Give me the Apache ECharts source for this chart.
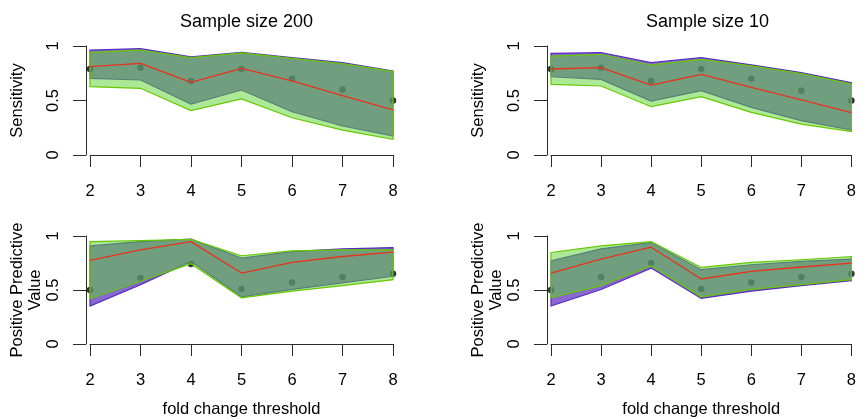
<!DOCTYPE html>
<html>
<head>
<meta charset="utf-8">
<script src="https://cdn.jsdelivr.net/npm/echarts@6/dist/echarts.min.js"></script>
<style>
  html, body { margin: 0; padding: 0; background: #fff; }
  #chart { width: 859px; height: 419px; }
</style>
</head>
<body>
<div id="chart"></div>
<script>
// fold change thresholds on the x axis
const thresholds = [2, 3, 4, 5, 6, 7, 8];
const yTicks = [0, 0.5, 1];

// Sensitivity, sample size 200
const sens200Truth = [0.79, 0.80, 0.68, 0.79, 0.70, 0.60, 0.50];
const sens200PurpleHi = [0.963, 0.975, 0.900, 0.942, 0.893, 0.847, 0.771];
const sens200PurpleLo = [0.703, 0.688, 0.468, 0.596, 0.397, 0.266, 0.174];
const sens200GreenHi = [0.942, 0.963, 0.893, 0.937, 0.887, 0.838, 0.765];
const sens200GreenLo = [0.627, 0.612, 0.407, 0.514, 0.342, 0.229, 0.144];
const sens200Median = [0.810, 0.841, 0.667, 0.795, 0.679, 0.544, 0.413];

// Sensitivity, sample size 10
const sens10Truth = [0.79, 0.80, 0.68, 0.79, 0.70, 0.59, 0.50];
const sens10PurpleHi = [0.933, 0.939, 0.847, 0.893, 0.826, 0.755, 0.664];
const sens10PurpleLo = [0.718, 0.694, 0.495, 0.590, 0.437, 0.315, 0.229];
const sens10GreenHi = [0.908, 0.924, 0.826, 0.878, 0.817, 0.746, 0.651];
const sens10GreenLo = [0.648, 0.633, 0.443, 0.535, 0.391, 0.284, 0.214];
const sens10Median = [0.789, 0.801, 0.642, 0.740, 0.621, 0.505, 0.388];

// Positive predictive value, sample size 200
const ppv200Truth = [0.50, 0.61, 0.74, 0.51, 0.57, 0.62, 0.65];
const ppv200PurpleHi = [0.908, 0.948, 0.972, 0.795, 0.856, 0.881, 0.893];
const ppv200PurpleLo = [0.352, 0.550, 0.765, 0.437, 0.505, 0.566, 0.627];
const ppv200GreenHi = [0.948, 0.957, 0.969, 0.817, 0.862, 0.872, 0.872];
const ppv200GreenLo = [0.419, 0.581, 0.743, 0.428, 0.489, 0.541, 0.596];
const ppv200Median = [0.774, 0.872, 0.948, 0.657, 0.755, 0.810, 0.850];

// Positive predictive value, sample size 10
const ppv10Truth = [0.50, 0.62, 0.75, 0.51, 0.57, 0.62, 0.65];
const ppv10PurpleHi = [0.771, 0.881, 0.939, 0.688, 0.734, 0.765, 0.786];
const ppv10PurpleLo = [0.352, 0.505, 0.703, 0.422, 0.489, 0.541, 0.587];
const ppv10GreenHi = [0.847, 0.908, 0.948, 0.709, 0.755, 0.780, 0.810];
const ppv10GreenLo = [0.428, 0.541, 0.725, 0.437, 0.505, 0.550, 0.596];
const ppv10Median = [0.657, 0.786, 0.896, 0.602, 0.673, 0.713, 0.749];

const FONT = '"Liberation Sans", Arial, Helvetica, sans-serif';
const INK = '#000';
const AXIS = '#2b2b2b';

const panels = [
    { truth: sens200Truth, pHi: sens200PurpleHi, pLo: sens200PurpleLo, gHi: sens200GreenHi, gLo: sens200GreenLo, med: sens200Median, yName: 'Sensitivity', xName: '' },
    { truth: sens10Truth, pHi: sens10PurpleHi, pLo: sens10PurpleLo, gHi: sens10GreenHi, gLo: sens10GreenLo, med: sens10Median, yName: 'Sensitivity', xName: '' },
    { truth: ppv200Truth, pHi: ppv200PurpleHi, pLo: ppv200PurpleLo, gHi: ppv200GreenHi, gLo: ppv200GreenLo, med: ppv200Median, yName: 'Positive Predictive\nValue', xName: 'fold change threshold' },
    { truth: ppv10Truth, pHi: ppv10PurpleHi, pLo: ppv10PurpleLo, gHi: ppv10GreenHi, gLo: ppv10GreenLo, med: ppv10Median, yName: 'Positive Predictive\nValue', xName: 'fold change threshold' }
];

const grids = [
    { left: 90, top: 46, width: 303, height: 109 },
    { left: 551, top: 46, width: 303, height: 109 },
    { left: 90, top: 236, width: 303, height: 109 },
    { left: 551, top: 236, width: 303, height: 109 }
];

// whole band drawn as one polygon, like R's polygon()
function bandSeries(idx, hi, lo, fill, stroke, z) {
    return {
        type: 'custom',
        xAxisIndex: idx,
        yAxisIndex: idx,
        z: z,
        silent: true,
        data: thresholds.map((x, i) => [x, lo[i], hi[i]]),
        encode: { x: 0, y: [1, 2] },
        renderItem: function (params, api) {
            if (params.dataIndex !== 0) return null;
            const pts = [];
            for (let i = 0; i < thresholds.length; i++) pts.push(api.coord([thresholds[i], hi[i]]));
            for (let i = thresholds.length - 1; i >= 0; i--) pts.push(api.coord([thresholds[i], lo[i]]));
            return {
                type: 'polygon',
                shape: { points: pts },
                style: { fill: fill, stroke: stroke, lineWidth: 1.2 }
            };
        }
    };
}

let xAxes = [], yAxes = [], series = [];
panels.forEach((p, idx) => {
    xAxes.push({
        gridIndex: idx,
        type: 'value',
        min: 2,
        max: 8,
        interval: 1,
        name: p.xName,
        nameLocation: 'middle',
        nameGap: 57,
        nameTextStyle: { color: INK, fontSize: 16.5, fontFamily: FONT },
        axisLine: { lineStyle: { color: AXIS, width: 1 } },
        axisTick: { length: 12, lineStyle: { color: AXIS } },
        axisLabel: { color: INK, fontSize: 16.5, fontFamily: FONT, margin: 28 },
        splitLine: { show: false }
    });
    yAxes.push({
        gridIndex: idx,
        type: 'value',
        min: 0,
        max: 1,
        interval: 0.5,
        offset: 4,
        name: p.yName,
        nameLocation: 'middle',
        nameRotate: 90,
        nameGap: idx < 2 ? 60 : 39,
        nameTextStyle: { color: INK, fontSize: 16.5, fontFamily: FONT, lineHeight: 18 },
        axisLine: { show: true, lineStyle: { color: AXIS, width: 1 } },
        axisTick: { show: true, length: 13, lineStyle: { color: AXIS } },
        axisLabel: {
            color: INK, fontSize: 16.5, fontFamily: FONT, rotate: 90, margin: 24,
            formatter: v => yTicks.indexOf(v) >= 0 ? String(v) : ''
        },
        splitLine: { show: false }
    });
    series.push({
        type: 'scatter',
        xAxisIndex: idx,
        yAxisIndex: idx,
        z: 1,
        symbolSize: 6.5,
        itemStyle: { color: '#000' },
        data: thresholds.map((x, i) => [x, p.truth[i]])
    });
    series.push(bandSeries(idx, p.pHi, p.pLo, 'rgba(85,40,190,0.7)', '#5a2cc0', 2));
    series.push(bandSeries(idx, p.gHi, p.gLo, 'rgba(88,212,45,0.5)', '#66c800', 3));
    series.push({
        type: 'line',
        xAxisIndex: idx,
        yAxisIndex: idx,
        z: 4,
        symbol: 'none',
        lineStyle: { color: '#e8321c', width: 1.3 },
        data: thresholds.map((x, i) => [x, p.med[i]])
    });
});

const chart = echarts.init(document.getElementById('chart'), null, { renderer: 'canvas' });
chart.setOption({
    animation: false,
    backgroundColor: '#fff',
    title: [
        { text: 'Sample size 200', left: 241.5, top: 8, textAlign: 'center', textStyle: { color: INK, fontSize: 18, fontWeight: 'normal', fontFamily: FONT } },
        { text: 'Sample size 10', left: 702.5, top: 8, textAlign: 'center', textStyle: { color: INK, fontSize: 18, fontWeight: 'normal', fontFamily: FONT } }
    ],
    grid: grids,
    xAxis: xAxes,
    yAxis: yAxes,
    series: series
});
</script>
</body>
</html>
